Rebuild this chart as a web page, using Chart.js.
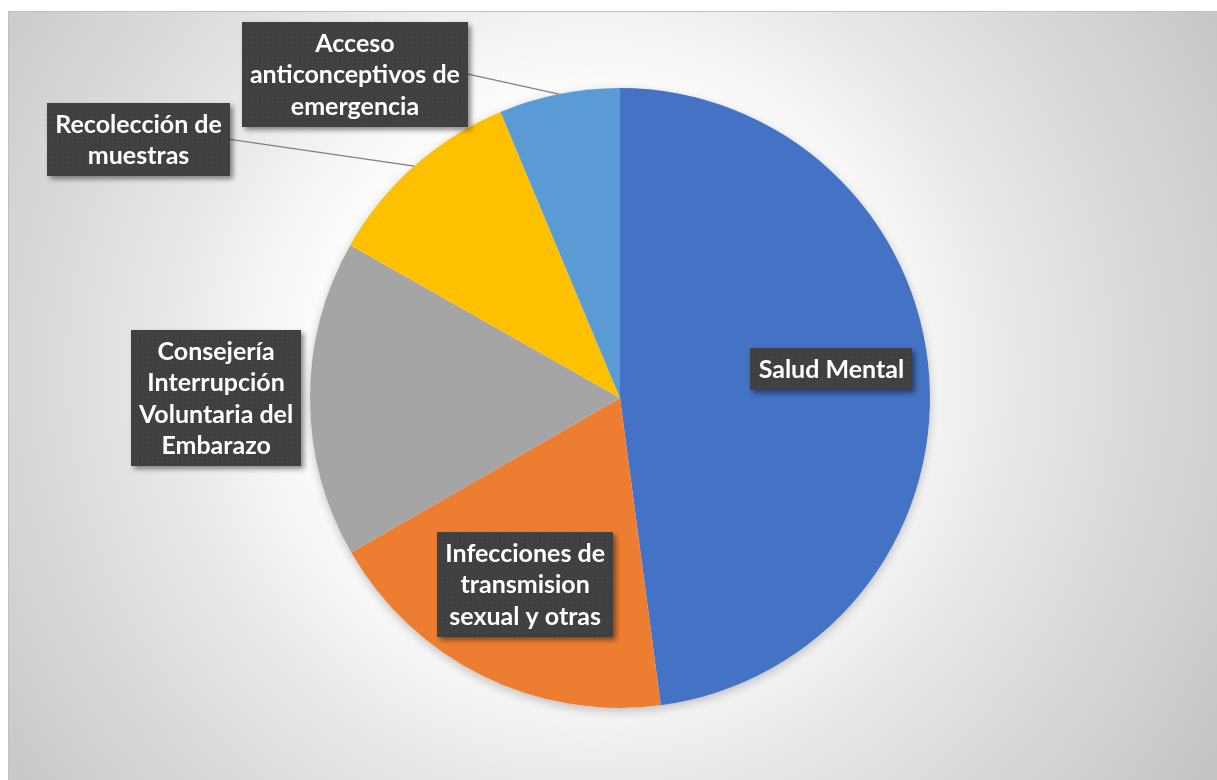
<!DOCTYPE html>
<html lang="es">
<head>
<meta charset="UTF-8" />
<meta name="viewport" content="width=device-width, initial-scale=1.0" />
<title>Atenciones por servicio</title>
<style>
  html, body { margin: 0; padding: 0; background: #ffffff; }
  .chart-container { position: relative; width: 1217px; height: 780px; }
</style>
</head>
<body>
<div class="chart-container">
  <canvas id="pie"></canvas>
</div>

<script src="https://cdn.jsdelivr.net/npm/chart.js"></script>
<script>
  const categories = [
    "Salud Mental",
    "Infecciones de transmision sexual y otras",
    "Consejería Interrupción Voluntaria del Embarazo",
    "Recolección de muestras",
    "Acceso anticonceptivos de emergencia"
  ];
  const values = [47.9, 18.8, 16.5, 10.5, 6.3];
  const sliceColors = ["#4472C4", "#ED7D31", "#A5A5A5", "#FFC000", "#5B9BD5"];

  // how each label is broken into lines
  const labelLines = [
    ["Salud Mental"],
    ["Infecciones de", "transmision", "sexual y otras"],
    ["Consejería", "Interrupción", "Voluntaria del", "Embarazo"],
    ["Recolección de", "muestras"],
    ["Acceso", "anticonceptivos de", "emergencia"]
  ];
  // label box centre, measured in pie radii from the pie centre
  const labelOffsets = [[0.682, -0.094], [-0.306, 0.6], [-1.303, 0], [-1.553, -0.834], [-0.855, -1.045]];
  const hasLeader = [false, false, false, true, true];

  // small dotted fill for the label boxes
  function makeDots(ctx) {
    const c = document.createElement("canvas");
    c.width = 5; c.height = 5;
    const g = c.getContext("2d");
    g.fillStyle = "#404040";
    g.fillRect(0, 0, 5, 5);
    g.fillStyle = "#4d4d4d";
    g.fillRect(2, 2, 1, 1);
    return ctx.createPattern(c, "repeat");
  }

  const backgroundPlugin = {
    id: "frame",
    beforeDraw(chart) {
      const ctx = chart.ctx;
      const w = chart.width, h = chart.height;
      ctx.save();
      ctx.fillStyle = "#ffffff";
      ctx.fillRect(0, 0, w, h);
      const grad = ctx.createRadialGradient(590, 370, 0, 590, 370, 760);
      grad.addColorStop(0, "#ffffff");
      grad.addColorStop(0.38, "#fbfbfb");
      grad.addColorStop(0.6, "#e4e4e4");
      grad.addColorStop(1, "#c2c2c2");
      ctx.fillStyle = grad;
      ctx.fillRect(8, 11, w - 8, h - 11);
      ctx.strokeStyle = "#c0c0c0";
      ctx.lineWidth = 1;
      ctx.beginPath();
      ctx.moveTo(8.5, h);
      ctx.lineTo(8.5, 11.5);
      ctx.lineTo(w, 11.5);
      ctx.stroke();
      ctx.restore();
    },
    beforeDatasetsDraw(chart) {
      // soft shadow under the whole pie
      const arc = chart.getDatasetMeta(0).data[0];
      if (!arc) return;
      const ctx = chart.ctx;
      ctx.save();
      ctx.shadowColor = "rgba(0,0,0,0.22)";
      ctx.shadowBlur = 10;
      ctx.shadowOffsetY = 3;
      ctx.fillStyle = "#f4f4f4";
      ctx.beginPath();
      ctx.arc(arc.x, arc.y, arc.outerRadius, 0, Math.PI * 2);
      ctx.fill();
      ctx.restore();
    }
  };

  const boxLabelPlugin = {
    id: "boxLabels",
    afterDatasetsDraw(chart) {
      const ctx = chart.ctx;
      const arcs = chart.getDatasetMeta(0).data;
      const dots = makeDots(ctx);
      const lineH = 31.5, padX = 8, padY = 5;
      ctx.save();
      ctx.font = "bold 25px Lato";
      arcs.forEach((arc, i) => {
        const r = arc.outerRadius;
        const cx = arc.x + labelOffsets[i][0] * r;
        const cy = arc.y + labelOffsets[i][1] * r;
        const lines = labelLines[i];
        const tw = Math.max(...lines.map((l) => ctx.measureText(l).width));
        const bw = Math.round(tw + padX * 2);
        const bh = Math.round(lines.length * lineH + padY * 2);
        const bx = Math.round(cx - bw / 2);
        const by = Math.round(cy - bh / 2);

        if (hasLeader[i]) {
          const mid = (arc.startAngle + arc.endAngle) / 2;
          ctx.strokeStyle = "#808080";
          ctx.lineWidth = 1.2;
          ctx.beginPath();
          ctx.moveTo(bx + bw, cy);
          ctx.lineTo(arc.x + Math.cos(mid) * r, arc.y + Math.sin(mid) * r);
          ctx.stroke();
        }

        ctx.save();
        ctx.shadowColor = "rgba(0,0,0,0.45)";
        ctx.shadowBlur = 5;
        ctx.shadowOffsetX = 3;
        ctx.shadowOffsetY = 3;
        ctx.fillStyle = "#404040";
        ctx.fillRect(bx, by, bw, bh);
        ctx.restore();
        ctx.fillStyle = dots;
        ctx.fillRect(bx, by, bw, bh);

        ctx.fillStyle = "#ffffff";
        ctx.textAlign = "center";
        ctx.textBaseline = "middle";
        lines.forEach((l, k) => {
          ctx.fillText(l, cx, by + padY + lineH * (k + 0.5) + 1);
        });
      });
      ctx.restore();
    }
  };

  const chart = new Chart(document.getElementById("pie"), {
    type: "pie",
    data: {
      labels: categories,
      datasets: [
        {
          data: values,
          backgroundColor: sliceColors,
          borderWidth: 0,
          hoverOffset: 0
        }
      ]
    },
    options: {
      responsive: true,
      maintainAspectRatio: false,
      animation: false,
      events: [],
      layout: { padding: { left: 23, right: 0, top: 88, bottom: 72 } },
      plugins: {
        legend: { display: false },
        tooltip: { enabled: false }
      }
    },
    plugins: [backgroundPlugin, boxLabelPlugin]
  });
</script>
</body>
</html>
